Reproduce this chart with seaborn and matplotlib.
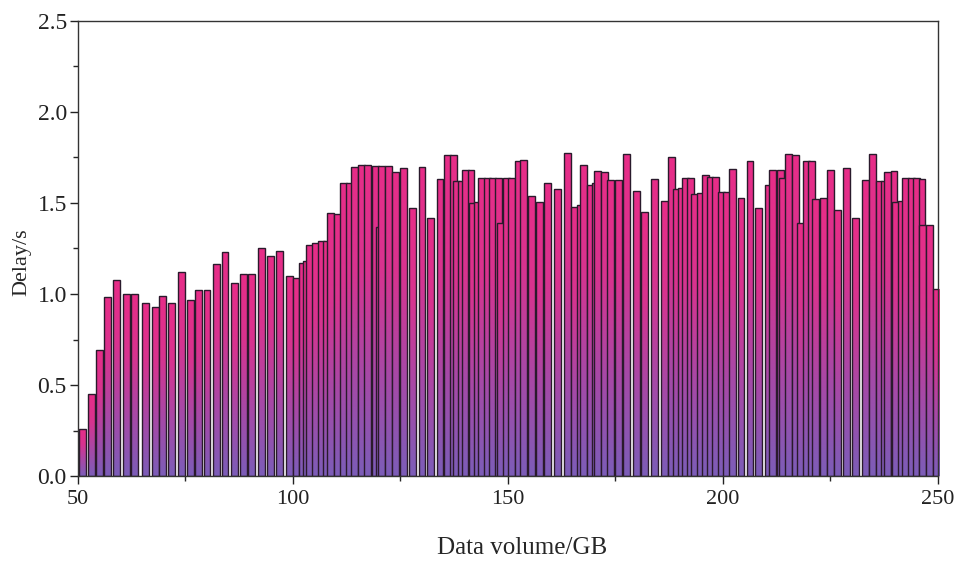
import numpy as np
import matplotlib.pyplot as plt
import seaborn as sns
from matplotlib.colors import LinearSegmentedColormap
from matplotlib.ticker import MultipleLocator, FormatStrFormatter

# Data volume (GB) at each bar centre and measured delay (s)
volume = [
    51.05, 53.2, 55.0, 56.9, 59.0, 61.35, 63.1, 65.8, 68.0, 69.7,
    71.8, 74.1, 76.1, 78.0, 80.0, 82.3, 84.2, 86.4, 88.5, 90.3,
    92.6, 94.7, 96.8, 99.1, 100.7, 102.2, 103.2, 103.8, 105.2, 106.6,
    107.7, 108.8, 110.4, 111.7, 113.1, 114.3, 115.9, 117.4, 119.1, 120.1,
    120.65, 122.2, 123.8, 125.7, 127.8, 130.0, 132.0, 134.2, 135.9, 137.3,
    138.1, 139.1, 140.2, 141.4, 141.7, 143.0, 143.9, 145.3, 146.5, 147.8,
    148.2, 149.7, 150.9, 152.4, 153.6, 155.5, 157.3, 159.2, 161.5, 163.8,
    165.4, 166.8, 167.6, 169.1, 170.3, 170.8, 172.4, 173.9, 175.7, 177.6,
    180.0, 181.7, 184.0, 186.4, 188.1, 189.3, 190.4, 191.2, 192.5, 193.3,
    194.7, 195.9, 197.0, 198.3, 199.7, 200.9, 202.2, 204.2, 206.3, 208.3,
    210.6, 211.6, 213.3, 213.9, 215.2, 216.95, 218.1, 219.4, 220.6, 221.5,
    223.4, 225.0, 226.7, 228.8, 230.8, 233.1, 234.8, 236.3, 237.6, 238.3,
    239.8, 240.2, 241.6, 242.5, 243.8, 245.1, 246.3, 246.5, 248.0, 249.7,
]
delay = [
    0.26, 0.45, 0.69, 0.985, 1.075, 1.00, 1.00, 0.95, 0.93, 0.99,
    0.95, 1.12, 0.965, 1.02, 1.02, 1.165, 1.23, 1.06, 1.11, 1.11,
    1.25, 1.21, 1.235, 1.10, 1.09, 1.17, 1.18, 1.27, 1.28, 1.29,
    1.29, 1.445, 1.44, 1.61, 1.61, 1.70, 1.71, 1.71, 1.705, 1.37,
    1.705, 1.705, 1.67, 1.69, 1.47, 1.70, 1.415, 1.63, 1.765, 1.765,
    1.62, 1.62, 1.68, 1.68, 1.50, 1.505, 1.635, 1.64, 1.64, 1.635,
    1.39, 1.635, 1.635, 1.73, 1.735, 1.54, 1.505, 1.61, 1.575, 1.775,
    1.48, 1.49, 1.71, 1.60, 1.61, 1.675, 1.67, 1.625, 1.625, 1.77,
    1.565, 1.45, 1.63, 1.51, 1.75, 1.575, 1.58, 1.635, 1.64, 1.55,
    1.555, 1.655, 1.645, 1.645, 1.56, 1.56, 1.685, 1.525, 1.73, 1.475,
    1.60, 1.68, 1.68, 1.64, 1.77, 1.765, 1.39, 1.73, 1.73, 1.52,
    1.525, 1.68, 1.46, 1.69, 1.42, 1.625, 1.77, 1.62, 1.62, 1.67,
    1.675, 1.505, 1.51, 1.635, 1.635, 1.635, 1.63, 1.38, 1.38, 1.03,
]

sns.set_theme(style="ticks")
plt.rcParams["font.family"] = ["Liberation Serif", "DejaVu Serif"]

fig, ax = plt.subplots(figsize=(9.58, 5.61), dpi=100)
fig.subplots_adjust(left=0.0814, right=0.979, bottom=0.1515, top=0.9626)

bar_width = 1.6
step = np.min(np.diff(np.unique(volume)))
sns.barplot(x=volume, y=delay, native_scale=True, width=bar_width / step,
            errorbar=None, color="#c03c9a", ax=ax)

# vertical pink -> purple gradient inside each bar
cmap = LinearSegmentedColormap.from_list("bar", ["#7c5db8", "#a848a6", "#d8338f", "#e82d88"])
grad = np.linspace(0, 1, 256).reshape(-1, 1)
for i, bar in enumerate(list(ax.patches)):
    z = 2 + i * 0.01
    x0, y0 = bar.get_x(), bar.get_y()
    w, h = bar.get_width(), bar.get_height()
    img = ax.imshow(grad, cmap=cmap, origin="lower", aspect="auto",
                    extent=[x0, x0 + w, y0, y0 + h], zorder=z,
                    interpolation="bilinear")
    img.set_clip_path(bar)
    bar.set_facecolor("none")
    bar.set_edgecolor("#2a1a2c")
    bar.set_linewidth(1.0)
    bar.set_zorder(z + 0.005)

ax.set_xlim(50, 250)
ax.set_ylim(0, 2.5)
ax.set_aspect("auto")
ax.xaxis.set_major_locator(MultipleLocator(50))
ax.xaxis.set_minor_locator(MultipleLocator(25))
ax.yaxis.set_major_locator(MultipleLocator(0.5))
ax.yaxis.set_minor_locator(MultipleLocator(0.25))
ax.yaxis.set_major_formatter(FormatStrFormatter("%.1f"))
ax.xaxis.set_major_formatter(FormatStrFormatter("%d"))
ax.tick_params(axis="both", which="major", direction="out", length=6, width=1,
               colors="#222222")
ax.tick_params(axis="x", which="major", labelsize=16, pad=4)
ax.tick_params(axis="y", which="major", labelsize=17, pad=2)
ax.tick_params(axis="both", which="minor", direction="out", length=3.5, width=1)
for side in ["top", "right", "left", "bottom"]:
    ax.spines[side].set_visible(True)
    ax.spines[side].set_color("#333333")
    ax.spines[side].set_linewidth(1.0)
    ax.spines[side].set_zorder(10)

ax.set_xlabel("Data volume/GB", fontsize=18)
ax.set_ylabel("Delay/s", fontsize=16)
ax.xaxis.set_label_coords(0.517, -0.135)
ax.yaxis.set_label_coords(-0.054, 0.47)

fig.savefig("out.png", dpi=100)
